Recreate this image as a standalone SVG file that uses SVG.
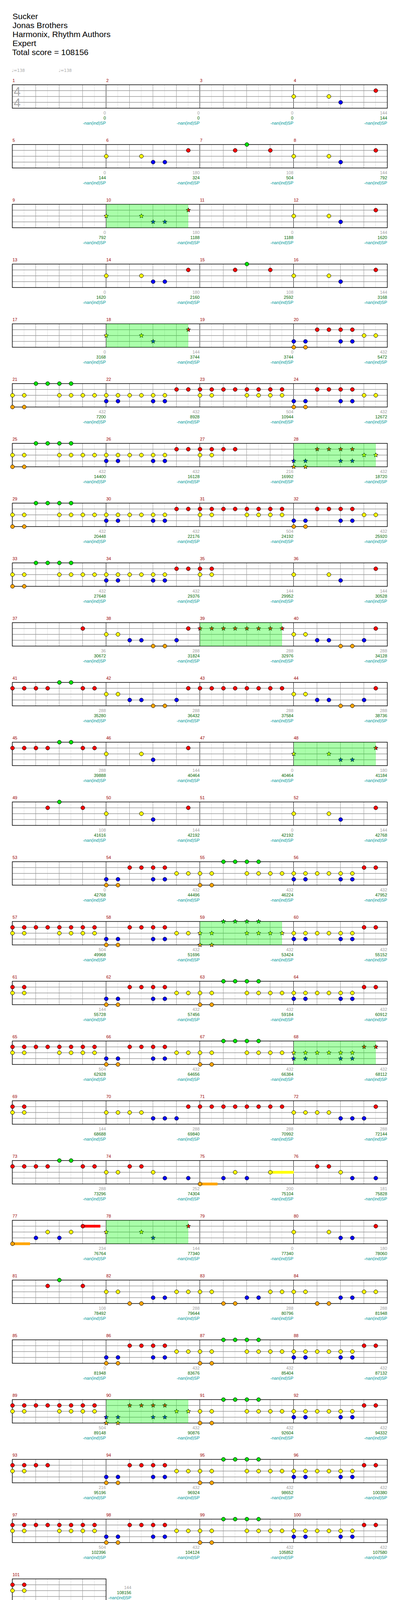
<svg xmlns="http://www.w3.org/2000/svg" width="1024" height="4195" viewBox="0 0 1024 4195">
<style>
text{font-family:"Liberation Sans",Arial,sans-serif;font-size:11px}
.mn{fill:#990000}
.a{fill:#a0a0a0;text-anchor:end}
.c{fill:#006600;text-anchor:end}
.d{fill:#009999;text-anchor:end}
.ttl{font-size:21px;fill:#000}
.tm{fill:#aaaaaa;font-size:10.5px;font-family:"DejaVu Sans","Liberation Sans",sans-serif}
.ts{fill:#aaaaaa;font-size:32px}
.r{fill:#ff0000}.y{fill:#ffff00}.b{fill:#0000ff}.g{fill:#00e000}.o{fill:#ffa500}
.sp{fill:#00ff00;fill-opacity:0.333}
.su{stroke:none}
</style>
<defs>
<g id="mg"><path d="M30 0V60M90 0V60M150 0V60M210 0V60" stroke="#e0e0e0"/><path d="M60 0V60M120 0V60M180 0V60" stroke="#999999"/><path d="M0 0V60" stroke="#000000"/></g>
<g id="row4"><use href="#mg"/><use href="#mg" x="240"/><use href="#mg" x="480"/><use href="#mg" x="720"/><path d="M0 15H960M0 30H960M0 45H960" stroke="#999999" stroke-width="1.5"/><rect width="960" height="60" fill="none" stroke="#000000" stroke-width="1.5"/></g>
<g id="row1"><use href="#mg"/><path d="M0 15H240M0 30H240M0 45H240" stroke="#999999" stroke-width="1.5"/><rect width="240" height="60" fill="none" stroke="#000000" stroke-width="1.5"/></g>
<path id="st" d="M0-6L1.53-2.1 5.71-1.85 2.47 0.8 3.53 4.85 0 2.6-3.53 4.85-2.47 0.8-5.71-1.85-1.53-2.1Z"/>
<g id="p4" stroke="#000"><circle class="y" cx="0" cy="30" r="5"/><circle class="y" cx="90" cy="30" r="5"/><circle class="b" cx="120" cy="45" r="5"/><circle class="r" cx="210" cy="15" r="5"/></g>
<g id="p6" stroke="#000"><circle class="y" cx="0" cy="30" r="5"/><circle class="y" cx="90" cy="30" r="5"/><circle class="b" cx="120" cy="45" r="5"/><circle class="b" cx="150" cy="45" r="5"/><circle class="r" cx="210" cy="15" r="5"/></g>
<g id="p7" stroke="#000"><circle class="r" cx="90" cy="15" r="5"/><circle class="g" cx="120" cy="0" r="5"/><circle class="r" cx="180" cy="15" r="5"/></g>
<g id="p21" stroke="#000"><circle class="y" cx="0" cy="30" r="5"/><circle class="o" cx="0" cy="60" r="5"/><circle class="y" cx="30" cy="30" r="5"/><circle class="o" cx="30" cy="60" r="5"/><circle class="g" cx="60" cy="0" r="5"/><circle class="g" cx="90" cy="0" r="5"/><circle class="g" cx="120" cy="0" r="5"/><circle class="g" cx="150" cy="0" r="5"/><circle class="y" cx="120" cy="30" r="5"/><circle class="y" cx="150" cy="30" r="5"/><circle class="y" cx="180" cy="30" r="5"/><circle class="y" cx="210" cy="30" r="5"/></g>
<g id="p22" stroke="#000"><circle class="y" cx="0" cy="30" r="5"/><circle class="b" cx="0" cy="45" r="5"/><circle class="y" cx="30" cy="30" r="5"/><circle class="b" cx="30" cy="45" r="5"/><circle class="y" cx="60" cy="30" r="5"/><circle class="y" cx="90" cy="30" r="5"/><circle class="y" cx="120" cy="30" r="5"/><circle class="b" cx="120" cy="45" r="5"/><circle class="y" cx="150" cy="30" r="5"/><circle class="b" cx="150" cy="45" r="5"/><circle class="r" cx="180" cy="15" r="5"/><circle class="r" cx="210" cy="15" r="5"/></g>
<g id="p23" stroke="#000"><circle class="r" cx="0" cy="15" r="5"/><circle class="y" cx="0" cy="30" r="5"/><circle class="r" cx="30" cy="15" r="5"/><circle class="y" cx="30" cy="30" r="5"/><circle class="r" cx="60" cy="15" r="5"/><circle class="r" cx="90" cy="15" r="5"/><circle class="r" cx="120" cy="15" r="5"/><circle class="y" cx="120" cy="30" r="5"/><circle class="r" cx="150" cy="15" r="5"/><circle class="y" cx="150" cy="30" r="5"/><circle class="r" cx="180" cy="15" r="5"/><circle class="y" cx="180" cy="30" r="5"/><circle class="r" cx="210" cy="15" r="5"/><circle class="y" cx="210" cy="30" r="5"/></g>
<g id="p24" stroke="#000"><circle class="b" cx="0" cy="45" r="5"/><circle class="o" cx="0" cy="60" r="5"/><circle class="b" cx="30" cy="45" r="5"/><circle class="o" cx="30" cy="60" r="5"/><circle class="r" cx="60" cy="15" r="5"/><circle class="r" cx="90" cy="15" r="5"/><circle class="r" cx="120" cy="15" r="5"/><circle class="b" cx="120" cy="45" r="5"/><circle class="r" cx="150" cy="15" r="5"/><circle class="b" cx="150" cy="45" r="5"/><circle class="y" cx="180" cy="30" r="5"/><circle class="y" cx="210" cy="30" r="5"/></g>
<g id="p57" stroke="#000"><circle class="r" cx="0" cy="15" r="5"/><circle class="r" cx="30" cy="15" r="5"/><circle class="r" cx="60" cy="15" r="5"/><circle class="r" cx="90" cy="15" r="5"/><circle class="r" cx="120" cy="15" r="5"/><circle class="r" cx="150" cy="15" r="5"/><circle class="r" cx="180" cy="15" r="5"/><circle class="r" cx="210" cy="15" r="5"/><circle class="y" cx="0" cy="30" r="5"/><circle class="y" cx="30" cy="30" r="5"/><circle class="y" cx="120" cy="30" r="5"/><circle class="y" cx="150" cy="30" r="5"/><circle class="y" cx="180" cy="30" r="5"/><circle class="y" cx="210" cy="30" r="5"/></g>
<g id="p38" stroke="#000"><circle class="y" cx="0" cy="30" r="5"/><circle class="y" cx="30" cy="30" r="5"/><circle class="b" cx="60" cy="45" r="5"/><circle class="b" cx="90" cy="45" r="5"/><circle class="o" cx="120" cy="60" r="5"/><circle class="o" cx="150" cy="60" r="5"/><circle class="b" cx="180" cy="45" r="5"/><circle class="r" cx="210" cy="15" r="5"/></g>
<g id="p41" stroke="#000"><circle class="r" cx="0" cy="15" r="5"/><circle class="r" cx="30" cy="15" r="5"/><circle class="r" cx="60" cy="15" r="5"/><circle class="r" cx="90" cy="15" r="5"/><circle class="g" cx="120" cy="0" r="5"/><circle class="g" cx="150" cy="0" r="5"/><circle class="r" cx="180" cy="15" r="5"/><circle class="r" cx="210" cy="15" r="5"/></g>
<g id="p43" stroke="#000"><circle class="r" cx="0" cy="15" r="5"/><circle class="r" cx="30" cy="15" r="5"/><circle class="r" cx="60" cy="15" r="5"/><circle class="r" cx="90" cy="15" r="5"/><circle class="r" cx="120" cy="15" r="5"/><circle class="r" cx="150" cy="15" r="5"/><circle class="r" cx="180" cy="15" r="5"/><circle class="r" cx="210" cy="15" r="5"/></g>
<g id="p61" stroke="#000"><circle class="r" cx="0" cy="15" r="5"/><circle class="y" cx="0" cy="30" r="5"/><circle class="r" cx="30" cy="15" r="5"/><circle class="y" cx="30" cy="30" r="5"/></g>
<g id="p27" stroke="#000"><circle class="r" cx="0" cy="15" r="5"/><circle class="y" cx="0" cy="30" r="5"/><circle class="r" cx="30" cy="15" r="5"/><circle class="y" cx="30" cy="30" r="5"/><circle class="r" cx="60" cy="15" r="5"/><circle class="r" cx="90" cy="15" r="5"/></g>
<g id="p70" stroke="#000"><circle class="y" cx="0" cy="30" r="5"/><circle class="y" cx="30" cy="30" r="5"/><circle class="y" cx="60" cy="30" r="5"/><circle class="y" cx="90" cy="30" r="5"/><circle class="b" cx="120" cy="45" r="5"/><circle class="b" cx="150" cy="45" r="5"/><circle class="b" cx="180" cy="45" r="5"/><circle class="r" cx="210" cy="15" r="5"/></g>
<g id="p82" stroke="#000"><circle class="y" cx="0" cy="30" r="5"/><circle class="y" cx="30" cy="30" r="5"/><circle class="o" cx="60" cy="60" r="5"/><circle class="o" cx="90" cy="60" r="5"/><circle class="b" cx="120" cy="45" r="5"/><circle class="b" cx="150" cy="45" r="5"/><circle class="y" cx="180" cy="30" r="5"/><circle class="y" cx="210" cy="30" r="5"/></g>
<g id="s4" stroke="#000"><use href="#st" class="y" x="0" y="30"/><use href="#st" class="y" x="90" y="30"/><use href="#st" class="b" x="120" y="45"/><use href="#st" class="r" x="210" y="15"/></g>
<g id="s6" stroke="#000"><use href="#st" class="y" x="0" y="30"/><use href="#st" class="y" x="90" y="30"/><use href="#st" class="b" x="120" y="45"/><use href="#st" class="b" x="150" y="45"/><use href="#st" class="r" x="210" y="15"/></g>
<g id="s24" stroke="#000"><use href="#st" class="b" x="0" y="45"/><use href="#st" class="o" x="0" y="60"/><use href="#st" class="b" x="30" y="45"/><use href="#st" class="o" x="30" y="60"/><use href="#st" class="r" x="60" y="15"/><use href="#st" class="r" x="90" y="15"/><use href="#st" class="r" x="120" y="15"/><use href="#st" class="b" x="120" y="45"/><use href="#st" class="r" x="150" y="15"/><use href="#st" class="b" x="150" y="45"/><use href="#st" class="y" x="180" y="30"/><use href="#st" class="y" x="210" y="30"/></g>
<g id="s43" stroke="#000"><use href="#st" class="r" x="0" y="15"/><use href="#st" class="r" x="30" y="15"/><use href="#st" class="r" x="60" y="15"/><use href="#st" class="r" x="90" y="15"/><use href="#st" class="r" x="120" y="15"/><use href="#st" class="r" x="150" y="15"/><use href="#st" class="r" x="180" y="15"/><use href="#st" class="r" x="210" y="15"/></g>
<g id="s21" stroke="#000"><use href="#st" class="y" x="0" y="30"/><use href="#st" class="o" x="0" y="60"/><use href="#st" class="y" x="30" y="30"/><use href="#st" class="o" x="30" y="60"/><use href="#st" class="g" x="60" y="0"/><use href="#st" class="g" x="90" y="0"/><use href="#st" class="g" x="120" y="0"/><use href="#st" class="g" x="150" y="0"/><use href="#st" class="y" x="120" y="30"/><use href="#st" class="y" x="150" y="30"/><use href="#st" class="y" x="180" y="30"/><use href="#st" class="y" x="210" y="30"/></g>
<g id="s22" stroke="#000"><use href="#st" class="y" x="0" y="30"/><use href="#st" class="b" x="0" y="45"/><use href="#st" class="y" x="30" y="30"/><use href="#st" class="b" x="30" y="45"/><use href="#st" class="y" x="60" y="30"/><use href="#st" class="y" x="90" y="30"/><use href="#st" class="y" x="120" y="30"/><use href="#st" class="b" x="120" y="45"/><use href="#st" class="y" x="150" y="30"/><use href="#st" class="b" x="150" y="45"/><use href="#st" class="r" x="180" y="15"/><use href="#st" class="r" x="210" y="15"/></g>
<rect id="spb" class="sp" width="210" height="60"/>
</defs>
<rect width="1024" height="4195" fill="#ffffff"/>
<g id="header">
<text class="ttl" x="32" y="49">Sucker</text>
<text class="ttl" x="32" y="72">Jonas Brothers</text>
<text class="ttl" x="32" y="95">Harmonix, Rhythm Authors</text>
<text class="ttl" x="32" y="118">Expert</text>
<text class="ttl" x="31" y="141">Total score = 108156</text>
<text class="tm" x="30" y="184">♩=138</text>
<text class="tm" x="150" y="184">♩=138</text>
</g>
<g id="staves">
<use href="#row4" x="31.5" y="217"/><use href="#row4" x="31.5" y="370"/><use href="#row4" x="31.5" y="523"/><use href="#row4" x="31.5" y="676"/><use href="#row4" x="31.5" y="829"/><use href="#row4" x="31.5" y="982"/><use href="#row4" x="31.5" y="1135"/><use href="#row4" x="31.5" y="1288"/><use href="#row4" x="31.5" y="1441"/><use href="#row4" x="31.5" y="1594"/><use href="#row4" x="31.5" y="1747"/><use href="#row4" x="31.5" y="1900"/><use href="#row4" x="31.5" y="2053"/><use href="#row4" x="31.5" y="2206"/><use href="#row4" x="31.5" y="2359"/><use href="#row4" x="31.5" y="2512"/><use href="#row4" x="31.5" y="2665"/><use href="#row4" x="31.5" y="2818"/><use href="#row4" x="31.5" y="2971"/><use href="#row4" x="31.5" y="3124"/><use href="#row4" x="31.5" y="3277"/><use href="#row4" x="31.5" y="3430"/><use href="#row4" x="31.5" y="3583"/><use href="#row4" x="31.5" y="3736"/><use href="#row4" x="31.5" y="3889"/><use href="#row1" x="31.5" y="4042"/>
<text class="ts" x="35" y="245">4</text><text class="ts" x="35" y="274">4</text>
</g>
<g id="connectors"/>
<g id="m1" transform="translate(32 217)"><text class="mn" y="-7">1</text><text class="a" x="239" y="76">0</text><text class="c" x="239" y="89">0</text><text class="d" x="239" y="102">-nan(ind)SP</text></g>
<g id="m2" transform="translate(272 217)"><text class="mn" y="-7">2</text><text class="a" x="239" y="76">0</text><text class="c" x="239" y="89">0</text><text class="d" x="239" y="102">-nan(ind)SP</text></g>
<g id="m3" transform="translate(512 217)"><text class="mn" y="-7">3</text><text class="a" x="239" y="76">0</text><text class="c" x="239" y="89">0</text><text class="d" x="239" y="102">-nan(ind)SP</text></g>
<g id="m4" transform="translate(752 217)"><text class="mn" y="-7">4</text><use href="#p4"/><text class="a" x="239" y="76">144</text><text class="c" x="239" y="89">144</text><text class="d" x="239" y="102">-nan(ind)SP</text></g>
<g id="m5" transform="translate(32 370)"><text class="mn" y="-7">5</text><text class="a" x="239" y="76">0</text><text class="c" x="239" y="89">144</text><text class="d" x="239" y="102">-nan(ind)SP</text></g>
<g id="m6" transform="translate(272 370)"><text class="mn" y="-7">6</text><use href="#p6"/><text class="a" x="239" y="76">180</text><text class="c" x="239" y="89">324</text><text class="d" x="239" y="102">-nan(ind)SP</text></g>
<g id="m7" transform="translate(512 370)"><text class="mn" y="-7">7</text><use href="#p7"/><text class="a" x="239" y="76">108</text><text class="c" x="239" y="89">504</text><text class="d" x="239" y="102">-nan(ind)SP</text></g>
<g id="m8" transform="translate(752 370)"><text class="mn" y="-7">8</text><use href="#p4"/><text class="a" x="239" y="76">144</text><text class="c" x="239" y="89">792</text><text class="d" x="239" y="102">-nan(ind)SP</text></g>
<g id="m9" transform="translate(32 523)"><text class="mn" y="-7">9</text><text class="a" x="239" y="76">0</text><text class="c" x="239" y="89">792</text><text class="d" x="239" y="102">-nan(ind)SP</text></g>
<g id="m10" transform="translate(272 523)"><text class="mn" y="-7">10</text><use href="#s6"/><use href="#spb"/><text class="a" x="239" y="76">180</text><text class="c" x="239" y="89">1188</text><text class="d" x="239" y="102">-nan(ind)SP</text></g>
<g id="m11" transform="translate(512 523)"><text class="mn" y="-7">11</text><text class="a" x="239" y="76">0</text><text class="c" x="239" y="89">1188</text><text class="d" x="239" y="102">-nan(ind)SP</text></g>
<g id="m12" transform="translate(752 523)"><text class="mn" y="-7">12</text><use href="#p4"/><text class="a" x="239" y="76">144</text><text class="c" x="239" y="89">1620</text><text class="d" x="239" y="102">-nan(ind)SP</text></g>
<g id="m13" transform="translate(32 676)"><text class="mn" y="-7">13</text><text class="a" x="239" y="76">0</text><text class="c" x="239" y="89">1620</text><text class="d" x="239" y="102">-nan(ind)SP</text></g>
<g id="m14" transform="translate(272 676)"><text class="mn" y="-7">14</text><use href="#p6"/><text class="a" x="239" y="76">180</text><text class="c" x="239" y="89">2160</text><text class="d" x="239" y="102">-nan(ind)SP</text></g>
<g id="m15" transform="translate(512 676)"><text class="mn" y="-7">15</text><use href="#p7"/><text class="a" x="239" y="76">108</text><text class="c" x="239" y="89">2592</text><text class="d" x="239" y="102">-nan(ind)SP</text></g>
<g id="m16" transform="translate(752 676)"><text class="mn" y="-7">16</text><use href="#p4"/><text class="a" x="239" y="76">144</text><text class="c" x="239" y="89">3168</text><text class="d" x="239" y="102">-nan(ind)SP</text></g>
<g id="m17" transform="translate(32 829)"><text class="mn" y="-7">17</text><text class="a" x="239" y="76">0</text><text class="c" x="239" y="89">3168</text><text class="d" x="239" y="102">-nan(ind)SP</text></g>
<g id="m18" transform="translate(272 829)"><text class="mn" y="-7">18</text><use href="#s4"/><use href="#spb"/><text class="a" x="239" y="76">144</text><text class="c" x="239" y="89">3744</text><text class="d" x="239" y="102">-nan(ind)SP</text></g>
<g id="m19" transform="translate(512 829)"><text class="mn" y="-7">19</text><text class="a" x="239" y="76">0</text><text class="c" x="239" y="89">3744</text><text class="d" x="239" y="102">-nan(ind)SP</text></g>
<g id="m20" transform="translate(752 829)"><text class="mn" y="-7">20</text><use href="#p24"/><text class="a" x="239" y="76">432</text><text class="c" x="239" y="89">5472</text><text class="d" x="239" y="102">-nan(ind)SP</text></g>
<g id="m21" transform="translate(32 982)"><text class="mn" y="-7">21</text><use href="#p21"/><text class="a" x="239" y="76">432</text><text class="c" x="239" y="89">7200</text><text class="d" x="239" y="102">-nan(ind)SP</text></g>
<g id="m22" transform="translate(272 982)"><text class="mn" y="-7">22</text><use href="#p22"/><text class="a" x="239" y="76">432</text><text class="c" x="239" y="89">8928</text><text class="d" x="239" y="102">-nan(ind)SP</text></g>
<g id="m23" transform="translate(512 982)"><text class="mn" y="-7">23</text><use href="#p23"/><text class="a" x="239" y="76">504</text><text class="c" x="239" y="89">10944</text><text class="d" x="239" y="102">-nan(ind)SP</text></g>
<g id="m24" transform="translate(752 982)"><text class="mn" y="-7">24</text><use href="#p24"/><text class="a" x="239" y="76">432</text><text class="c" x="239" y="89">12672</text><text class="d" x="239" y="102">-nan(ind)SP</text></g>
<g id="m25" transform="translate(32 1135)"><text class="mn" y="-7">25</text><use href="#p21"/><text class="a" x="239" y="76">432</text><text class="c" x="239" y="89">14400</text><text class="d" x="239" y="102">-nan(ind)SP</text></g>
<g id="m26" transform="translate(272 1135)"><text class="mn" y="-7">26</text><use href="#p22"/><text class="a" x="239" y="76">432</text><text class="c" x="239" y="89">16128</text><text class="d" x="239" y="102">-nan(ind)SP</text></g>
<g id="m27" transform="translate(512 1135)"><text class="mn" y="-7">27</text><use href="#p27"/><text class="a" x="239" y="76">216</text><text class="c" x="239" y="89">16992</text><text class="d" x="239" y="102">-nan(ind)SP</text></g>
<g id="m28" transform="translate(752 1135)"><text class="mn" y="-7">28</text><use href="#s24"/><use href="#spb"/><text class="a" x="239" y="76">432</text><text class="c" x="239" y="89">18720</text><text class="d" x="239" y="102">-nan(ind)SP</text></g>
<g id="m29" transform="translate(32 1288)"><text class="mn" y="-7">29</text><use href="#p21"/><text class="a" x="239" y="76">432</text><text class="c" x="239" y="89">20448</text><text class="d" x="239" y="102">-nan(ind)SP</text></g>
<g id="m30" transform="translate(272 1288)"><text class="mn" y="-7">30</text><use href="#p22"/><text class="a" x="239" y="76">432</text><text class="c" x="239" y="89">22176</text><text class="d" x="239" y="102">-nan(ind)SP</text></g>
<g id="m31" transform="translate(512 1288)"><text class="mn" y="-7">31</text><use href="#p23"/><text class="a" x="239" y="76">504</text><text class="c" x="239" y="89">24192</text><text class="d" x="239" y="102">-nan(ind)SP</text></g>
<g id="m32" transform="translate(752 1288)"><text class="mn" y="-7">32</text><use href="#p24"/><text class="a" x="239" y="76">432</text><text class="c" x="239" y="89">25920</text><text class="d" x="239" y="102">-nan(ind)SP</text></g>
<g id="m33" transform="translate(32 1441)"><text class="mn" y="-7">33</text><use href="#p21"/><text class="a" x="239" y="76">432</text><text class="c" x="239" y="89">27648</text><text class="d" x="239" y="102">-nan(ind)SP</text></g>
<g id="m34" transform="translate(272 1441)"><text class="mn" y="-7">34</text><use href="#p22"/><text class="a" x="239" y="76">432</text><text class="c" x="239" y="89">29376</text><text class="d" x="239" y="102">-nan(ind)SP</text></g>
<g id="m35" transform="translate(512 1441)"><text class="mn" y="-7">35</text><use href="#p61"/><text class="a" x="239" y="76">144</text><text class="c" x="239" y="89">29952</text><text class="d" x="239" y="102">-nan(ind)SP</text></g>
<g id="m36" transform="translate(752 1441)"><text class="mn" y="-7">36</text><use href="#p4"/><text class="a" x="239" y="76">144</text><text class="c" x="239" y="89">30528</text><text class="d" x="239" y="102">-nan(ind)SP</text></g>
<g id="m37" transform="translate(32 1594)"><text class="mn" y="-7">37</text><circle class="r" cx="180" cy="15" r="5" stroke="#000"/><text class="a" x="239" y="76">36</text><text class="c" x="239" y="89">30672</text><text class="d" x="239" y="102">-nan(ind)SP</text></g>
<g id="m38" transform="translate(272 1594)"><text class="mn" y="-7">38</text><use href="#p38"/><text class="a" x="239" y="76">288</text><text class="c" x="239" y="89">31824</text><text class="d" x="239" y="102">-nan(ind)SP</text></g>
<g id="m39" transform="translate(512 1594)"><text class="mn" y="-7">39</text><use href="#s43"/><use href="#spb"/><text class="a" x="239" y="76">288</text><text class="c" x="239" y="89">32976</text><text class="d" x="239" y="102">-nan(ind)SP</text></g>
<g id="m40" transform="translate(752 1594)"><text class="mn" y="-7">40</text><use href="#p38"/><text class="a" x="239" y="76">288</text><text class="c" x="239" y="89">34128</text><text class="d" x="239" y="102">-nan(ind)SP</text></g>
<g id="m41" transform="translate(32 1747)"><text class="mn" y="-7">41</text><use href="#p41"/><text class="a" x="239" y="76">288</text><text class="c" x="239" y="89">35280</text><text class="d" x="239" y="102">-nan(ind)SP</text></g>
<g id="m42" transform="translate(272 1747)"><text class="mn" y="-7">42</text><use href="#p38"/><text class="a" x="239" y="76">288</text><text class="c" x="239" y="89">36432</text><text class="d" x="239" y="102">-nan(ind)SP</text></g>
<g id="m43" transform="translate(512 1747)"><text class="mn" y="-7">43</text><use href="#p43"/><text class="a" x="239" y="76">288</text><text class="c" x="239" y="89">37584</text><text class="d" x="239" y="102">-nan(ind)SP</text></g>
<g id="m44" transform="translate(752 1747)"><text class="mn" y="-7">44</text><use href="#p38"/><text class="a" x="239" y="76">288</text><text class="c" x="239" y="89">38736</text><text class="d" x="239" y="102">-nan(ind)SP</text></g>
<g id="m45" transform="translate(32 1900)"><text class="mn" y="-7">45</text><use href="#p41"/><text class="a" x="239" y="76">288</text><text class="c" x="239" y="89">39888</text><text class="d" x="239" y="102">-nan(ind)SP</text></g>
<g id="m46" transform="translate(272 1900)"><text class="mn" y="-7">46</text><use href="#p4"/><text class="a" x="239" y="76">144</text><text class="c" x="239" y="89">40464</text><text class="d" x="239" y="102">-nan(ind)SP</text></g>
<g id="m47" transform="translate(512 1900)"><text class="mn" y="-7">47</text><text class="a" x="239" y="76">0</text><text class="c" x="239" y="89">40464</text><text class="d" x="239" y="102">-nan(ind)SP</text></g>
<g id="m48" transform="translate(752 1900)"><text class="mn" y="-7">48</text><use href="#s6"/><use href="#spb"/><text class="a" x="239" y="76">180</text><text class="c" x="239" y="89">41184</text><text class="d" x="239" y="102">-nan(ind)SP</text></g>
<g id="m49" transform="translate(32 2053)"><text class="mn" y="-7">49</text><use href="#p7"/><text class="a" x="239" y="76">108</text><text class="c" x="239" y="89">41616</text><text class="d" x="239" y="102">-nan(ind)SP</text></g>
<g id="m50" transform="translate(272 2053)"><text class="mn" y="-7">50</text><use href="#p4"/><text class="a" x="239" y="76">144</text><text class="c" x="239" y="89">42192</text><text class="d" x="239" y="102">-nan(ind)SP</text></g>
<g id="m51" transform="translate(512 2053)"><text class="mn" y="-7">51</text><text class="a" x="239" y="76">0</text><text class="c" x="239" y="89">42192</text><text class="d" x="239" y="102">-nan(ind)SP</text></g>
<g id="m52" transform="translate(752 2053)"><text class="mn" y="-7">52</text><use href="#p4"/><text class="a" x="239" y="76">144</text><text class="c" x="239" y="89">42768</text><text class="d" x="239" y="102">-nan(ind)SP</text></g>
<g id="m53" transform="translate(32 2206)"><text class="mn" y="-7">53</text><text class="a" x="239" y="76">0</text><text class="c" x="239" y="89">42768</text><text class="d" x="239" y="102">-nan(ind)SP</text></g>
<g id="m54" transform="translate(272 2206)"><text class="mn" y="-7">54</text><use href="#p24"/><text class="a" x="239" y="76">432</text><text class="c" x="239" y="89">44496</text><text class="d" x="239" y="102">-nan(ind)SP</text></g>
<g id="m55" transform="translate(512 2206)"><text class="mn" y="-7">55</text><use href="#p21"/><text class="a" x="239" y="76">432</text><text class="c" x="239" y="89">46224</text><text class="d" x="239" y="102">-nan(ind)SP</text></g>
<g id="m56" transform="translate(752 2206)"><text class="mn" y="-7">56</text><use href="#p22"/><text class="a" x="239" y="76">432</text><text class="c" x="239" y="89">47952</text><text class="d" x="239" y="102">-nan(ind)SP</text></g>
<g id="m57" transform="translate(32 2359)"><text class="mn" y="-7">57</text><use href="#p57"/><text class="a" x="239" y="76">504</text><text class="c" x="239" y="89">49968</text><text class="d" x="239" y="102">-nan(ind)SP</text></g>
<g id="m58" transform="translate(272 2359)"><text class="mn" y="-7">58</text><use href="#p24"/><text class="a" x="239" y="76">432</text><text class="c" x="239" y="89">51696</text><text class="d" x="239" y="102">-nan(ind)SP</text></g>
<g id="m59" transform="translate(512 2359)"><text class="mn" y="-7">59</text><use href="#s21"/><use href="#spb"/><text class="a" x="239" y="76">432</text><text class="c" x="239" y="89">53424</text><text class="d" x="239" y="102">-nan(ind)SP</text></g>
<g id="m60" transform="translate(752 2359)"><text class="mn" y="-7">60</text><use href="#p22"/><text class="a" x="239" y="76">432</text><text class="c" x="239" y="89">55152</text><text class="d" x="239" y="102">-nan(ind)SP</text></g>
<g id="m61" transform="translate(32 2512)"><text class="mn" y="-7">61</text><use href="#p61"/><text class="a" x="239" y="76">144</text><text class="c" x="239" y="89">55728</text><text class="d" x="239" y="102">-nan(ind)SP</text></g>
<g id="m62" transform="translate(272 2512)"><text class="mn" y="-7">62</text><use href="#p24"/><text class="a" x="239" y="76">432</text><text class="c" x="239" y="89">57456</text><text class="d" x="239" y="102">-nan(ind)SP</text></g>
<g id="m63" transform="translate(512 2512)"><text class="mn" y="-7">63</text><use href="#p21"/><text class="a" x="239" y="76">432</text><text class="c" x="239" y="89">59184</text><text class="d" x="239" y="102">-nan(ind)SP</text></g>
<g id="m64" transform="translate(752 2512)"><text class="mn" y="-7">64</text><use href="#p22"/><text class="a" x="239" y="76">432</text><text class="c" x="239" y="89">60912</text><text class="d" x="239" y="102">-nan(ind)SP</text></g>
<g id="m65" transform="translate(32 2665)"><text class="mn" y="-7">65</text><use href="#p57"/><text class="a" x="239" y="76">504</text><text class="c" x="239" y="89">62928</text><text class="d" x="239" y="102">-nan(ind)SP</text></g>
<g id="m66" transform="translate(272 2665)"><text class="mn" y="-7">66</text><use href="#p24"/><text class="a" x="239" y="76">432</text><text class="c" x="239" y="89">64656</text><text class="d" x="239" y="102">-nan(ind)SP</text></g>
<g id="m67" transform="translate(512 2665)"><text class="mn" y="-7">67</text><use href="#p21"/><text class="a" x="239" y="76">432</text><text class="c" x="239" y="89">66384</text><text class="d" x="239" y="102">-nan(ind)SP</text></g>
<g id="m68" transform="translate(752 2665)"><text class="mn" y="-7">68</text><use href="#s22"/><use href="#spb"/><text class="a" x="239" y="76">432</text><text class="c" x="239" y="89">68112</text><text class="d" x="239" y="102">-nan(ind)SP</text></g>
<g id="m69" transform="translate(32 2818)"><text class="mn" y="-7">69</text><use href="#p61"/><text class="a" x="239" y="76">144</text><text class="c" x="239" y="89">68688</text><text class="d" x="239" y="102">-nan(ind)SP</text></g>
<g id="m70" transform="translate(272 2818)"><text class="mn" y="-7">70</text><use href="#p70"/><text class="a" x="239" y="76">288</text><text class="c" x="239" y="89">69840</text><text class="d" x="239" y="102">-nan(ind)SP</text></g>
<g id="m71" transform="translate(512 2818)"><text class="mn" y="-7">71</text><use href="#p43"/><text class="a" x="239" y="76">288</text><text class="c" x="239" y="89">70992</text><text class="d" x="239" y="102">-nan(ind)SP</text></g>
<g id="m72" transform="translate(752 2818)"><text class="mn" y="-7">72</text><use href="#p70"/><text class="a" x="239" y="76">288</text><text class="c" x="239" y="89">72144</text><text class="d" x="239" y="102">-nan(ind)SP</text></g>
<g id="m73" transform="translate(32 2971)"><text class="mn" y="-7">73</text><use href="#p41"/><text class="a" x="239" y="76">288</text><text class="c" x="239" y="89">73296</text><text class="d" x="239" y="102">-nan(ind)SP</text></g>
<g id="m74" transform="translate(272 2971)"><text class="mn" y="-7">74</text><g stroke="#000"><circle class="y" cx="0" cy="30" r="5"/><circle class="y" cx="30" cy="30" r="5"/><circle class="r" cx="60" cy="15" r="5"/><circle class="r" cx="90" cy="15" r="5"/><circle class="y" cx="120" cy="30" r="5"/><circle class="b" cx="150" cy="45" r="5"/><circle class="b" cx="210" cy="45" r="5"/></g><text class="a" x="239" y="76">252</text><text class="c" x="239" y="89">74304</text><text class="d" x="239" y="102">-nan(ind)SP</text></g>
<g id="m75" transform="translate(512 2971)"><text class="mn" y="-7">75</text><rect class="o su" x="0" y="56.5" width="45" height="7"/><rect class="y su" x="180" y="26.5" width="60" height="7"/><g stroke="#000"><circle class="o" cx="0" cy="60" r="5"/><circle class="b" cx="60" cy="45" r="5"/><circle class="y" cx="90" cy="30" r="5"/><circle class="b" cx="120" cy="45" r="5"/><circle class="y" cx="180" cy="30" r="5"/></g><text class="a" x="239" y="76">200</text><text class="c" x="239" y="89">75104</text><text class="d" x="239" y="102">-nan(ind)SP</text></g>
<g id="m76" transform="translate(752 2971)"><text class="mn" y="-7">76</text><g stroke="#000"><circle class="r" cx="60" cy="15" r="5"/><circle class="r" cx="90" cy="15" r="5"/><circle class="y" cx="120" cy="30" r="5"/><circle class="b" cx="150" cy="45" r="5"/><circle class="b" cx="210" cy="45" r="5"/></g><text class="a" x="239" y="76">181</text><text class="c" x="239" y="89">75828</text><text class="d" x="239" y="102">-nan(ind)SP</text></g>
<g id="m77" transform="translate(32 3124)"><text class="mn" y="-7">77</text><rect class="o su" x="0" y="56.5" width="45" height="7"/><rect class="r su" x="180" y="11.5" width="45" height="7"/><g stroke="#000"><circle class="o" cx="0" cy="60" r="5"/><circle class="b" cx="60" cy="45" r="5"/><circle class="y" cx="90" cy="30" r="5"/><circle class="b" cx="120" cy="45" r="5"/><circle class="y" cx="150" cy="30" r="5"/><circle class="r" cx="180" cy="15" r="5"/></g><text class="a" x="239" y="76">234</text><text class="c" x="239" y="89">76764</text><text class="d" x="239" y="102">-nan(ind)SP</text></g>
<g id="m78" transform="translate(272 3124)"><text class="mn" y="-7">78</text><use href="#s4"/><use href="#spb"/><text class="a" x="239" y="76">144</text><text class="c" x="239" y="89">77340</text><text class="d" x="239" y="102">-nan(ind)SP</text></g>
<g id="m79" transform="translate(512 3124)"><text class="mn" y="-7">79</text><text class="a" x="239" y="76">0</text><text class="c" x="239" y="89">77340</text><text class="d" x="239" y="102">-nan(ind)SP</text></g>
<g id="m80" transform="translate(752 3124)"><text class="mn" y="-7">80</text><use href="#p6"/><text class="a" x="239" y="76">180</text><text class="c" x="239" y="89">78060</text><text class="d" x="239" y="102">-nan(ind)SP</text></g>
<g id="m81" transform="translate(32 3277)"><text class="mn" y="-7">81</text><use href="#p7"/><text class="a" x="239" y="76">108</text><text class="c" x="239" y="89">78492</text><text class="d" x="239" y="102">-nan(ind)SP</text></g>
<g id="m82" transform="translate(272 3277)"><text class="mn" y="-7">82</text><use href="#p82"/><text class="a" x="239" y="76">288</text><text class="c" x="239" y="89">79644</text><text class="d" x="239" y="102">-nan(ind)SP</text></g>
<g id="m83" transform="translate(512 3277)"><text class="mn" y="-7">83</text><use href="#p82"/><text class="a" x="239" y="76">288</text><text class="c" x="239" y="89">80796</text><text class="d" x="239" y="102">-nan(ind)SP</text></g>
<g id="m84" transform="translate(752 3277)"><text class="mn" y="-7">84</text><use href="#p82"/><text class="a" x="239" y="76">288</text><text class="c" x="239" y="89">81948</text><text class="d" x="239" y="102">-nan(ind)SP</text></g>
<g id="m85" transform="translate(32 3430)"><text class="mn" y="-7">85</text><text class="a" x="239" y="76">0</text><text class="c" x="239" y="89">81948</text><text class="d" x="239" y="102">-nan(ind)SP</text></g>
<g id="m86" transform="translate(272 3430)"><text class="mn" y="-7">86</text><use href="#p24"/><text class="a" x="239" y="76">432</text><text class="c" x="239" y="89">83676</text><text class="d" x="239" y="102">-nan(ind)SP</text></g>
<g id="m87" transform="translate(512 3430)"><text class="mn" y="-7">87</text><use href="#p21"/><text class="a" x="239" y="76">432</text><text class="c" x="239" y="89">85404</text><text class="d" x="239" y="102">-nan(ind)SP</text></g>
<g id="m88" transform="translate(752 3430)"><text class="mn" y="-7">88</text><use href="#p22"/><text class="a" x="239" y="76">432</text><text class="c" x="239" y="89">87132</text><text class="d" x="239" y="102">-nan(ind)SP</text></g>
<g id="m89" transform="translate(32 3583)"><text class="mn" y="-7">89</text><use href="#p57"/><text class="a" x="239" y="76">504</text><text class="c" x="239" y="89">89148</text><text class="d" x="239" y="102">-nan(ind)SP</text></g>
<g id="m90" transform="translate(272 3583)"><text class="mn" y="-7">90</text><use href="#s24"/><use href="#spb"/><text class="a" x="239" y="76">432</text><text class="c" x="239" y="89">90876</text><text class="d" x="239" y="102">-nan(ind)SP</text></g>
<g id="m91" transform="translate(512 3583)"><text class="mn" y="-7">91</text><use href="#p21"/><text class="a" x="239" y="76">432</text><text class="c" x="239" y="89">92604</text><text class="d" x="239" y="102">-nan(ind)SP</text></g>
<g id="m92" transform="translate(752 3583)"><text class="mn" y="-7">92</text><use href="#p22"/><text class="a" x="239" y="76">432</text><text class="c" x="239" y="89">94332</text><text class="d" x="239" y="102">-nan(ind)SP</text></g>
<g id="m93" transform="translate(32 3736)"><text class="mn" y="-7">93</text><use href="#p27"/><text class="a" x="239" y="76">216</text><text class="c" x="239" y="89">95196</text><text class="d" x="239" y="102">-nan(ind)SP</text></g>
<g id="m94" transform="translate(272 3736)"><text class="mn" y="-7">94</text><use href="#p24"/><text class="a" x="239" y="76">432</text><text class="c" x="239" y="89">96924</text><text class="d" x="239" y="102">-nan(ind)SP</text></g>
<g id="m95" transform="translate(512 3736)"><text class="mn" y="-7">95</text><use href="#p21"/><text class="a" x="239" y="76">432</text><text class="c" x="239" y="89">98652</text><text class="d" x="239" y="102">-nan(ind)SP</text></g>
<g id="m96" transform="translate(752 3736)"><text class="mn" y="-7">96</text><use href="#p22"/><text class="a" x="239" y="76">432</text><text class="c" x="239" y="89">100380</text><text class="d" x="239" y="102">-nan(ind)SP</text></g>
<g id="m97" transform="translate(32 3889)"><text class="mn" y="-7">97</text><use href="#p57"/><text class="a" x="239" y="76">504</text><text class="c" x="239" y="89">102396</text><text class="d" x="239" y="102">-nan(ind)SP</text></g>
<g id="m98" transform="translate(272 3889)"><text class="mn" y="-7">98</text><use href="#p24"/><text class="a" x="239" y="76">432</text><text class="c" x="239" y="89">104124</text><text class="d" x="239" y="102">-nan(ind)SP</text></g>
<g id="m99" transform="translate(512 3889)"><text class="mn" y="-7">99</text><use href="#p21"/><text class="a" x="239" y="76">432</text><text class="c" x="239" y="89">105852</text><text class="d" x="239" y="102">-nan(ind)SP</text></g>
<g id="m100" transform="translate(752 3889)"><text class="mn" y="-7">100</text><use href="#p22"/><text class="a" x="239" y="76">432</text><text class="c" x="239" y="89">107580</text><text class="d" x="239" y="102">-nan(ind)SP</text></g>
<g id="m101" transform="translate(32 4042)"><text class="mn" y="-7">101</text><use href="#p61"/><text class="a" x="304" y="26">144</text><text class="c" x="304" y="39">108156</text><text class="d" x="304" y="52">-nan(ind)SP</text></g>
</svg>
